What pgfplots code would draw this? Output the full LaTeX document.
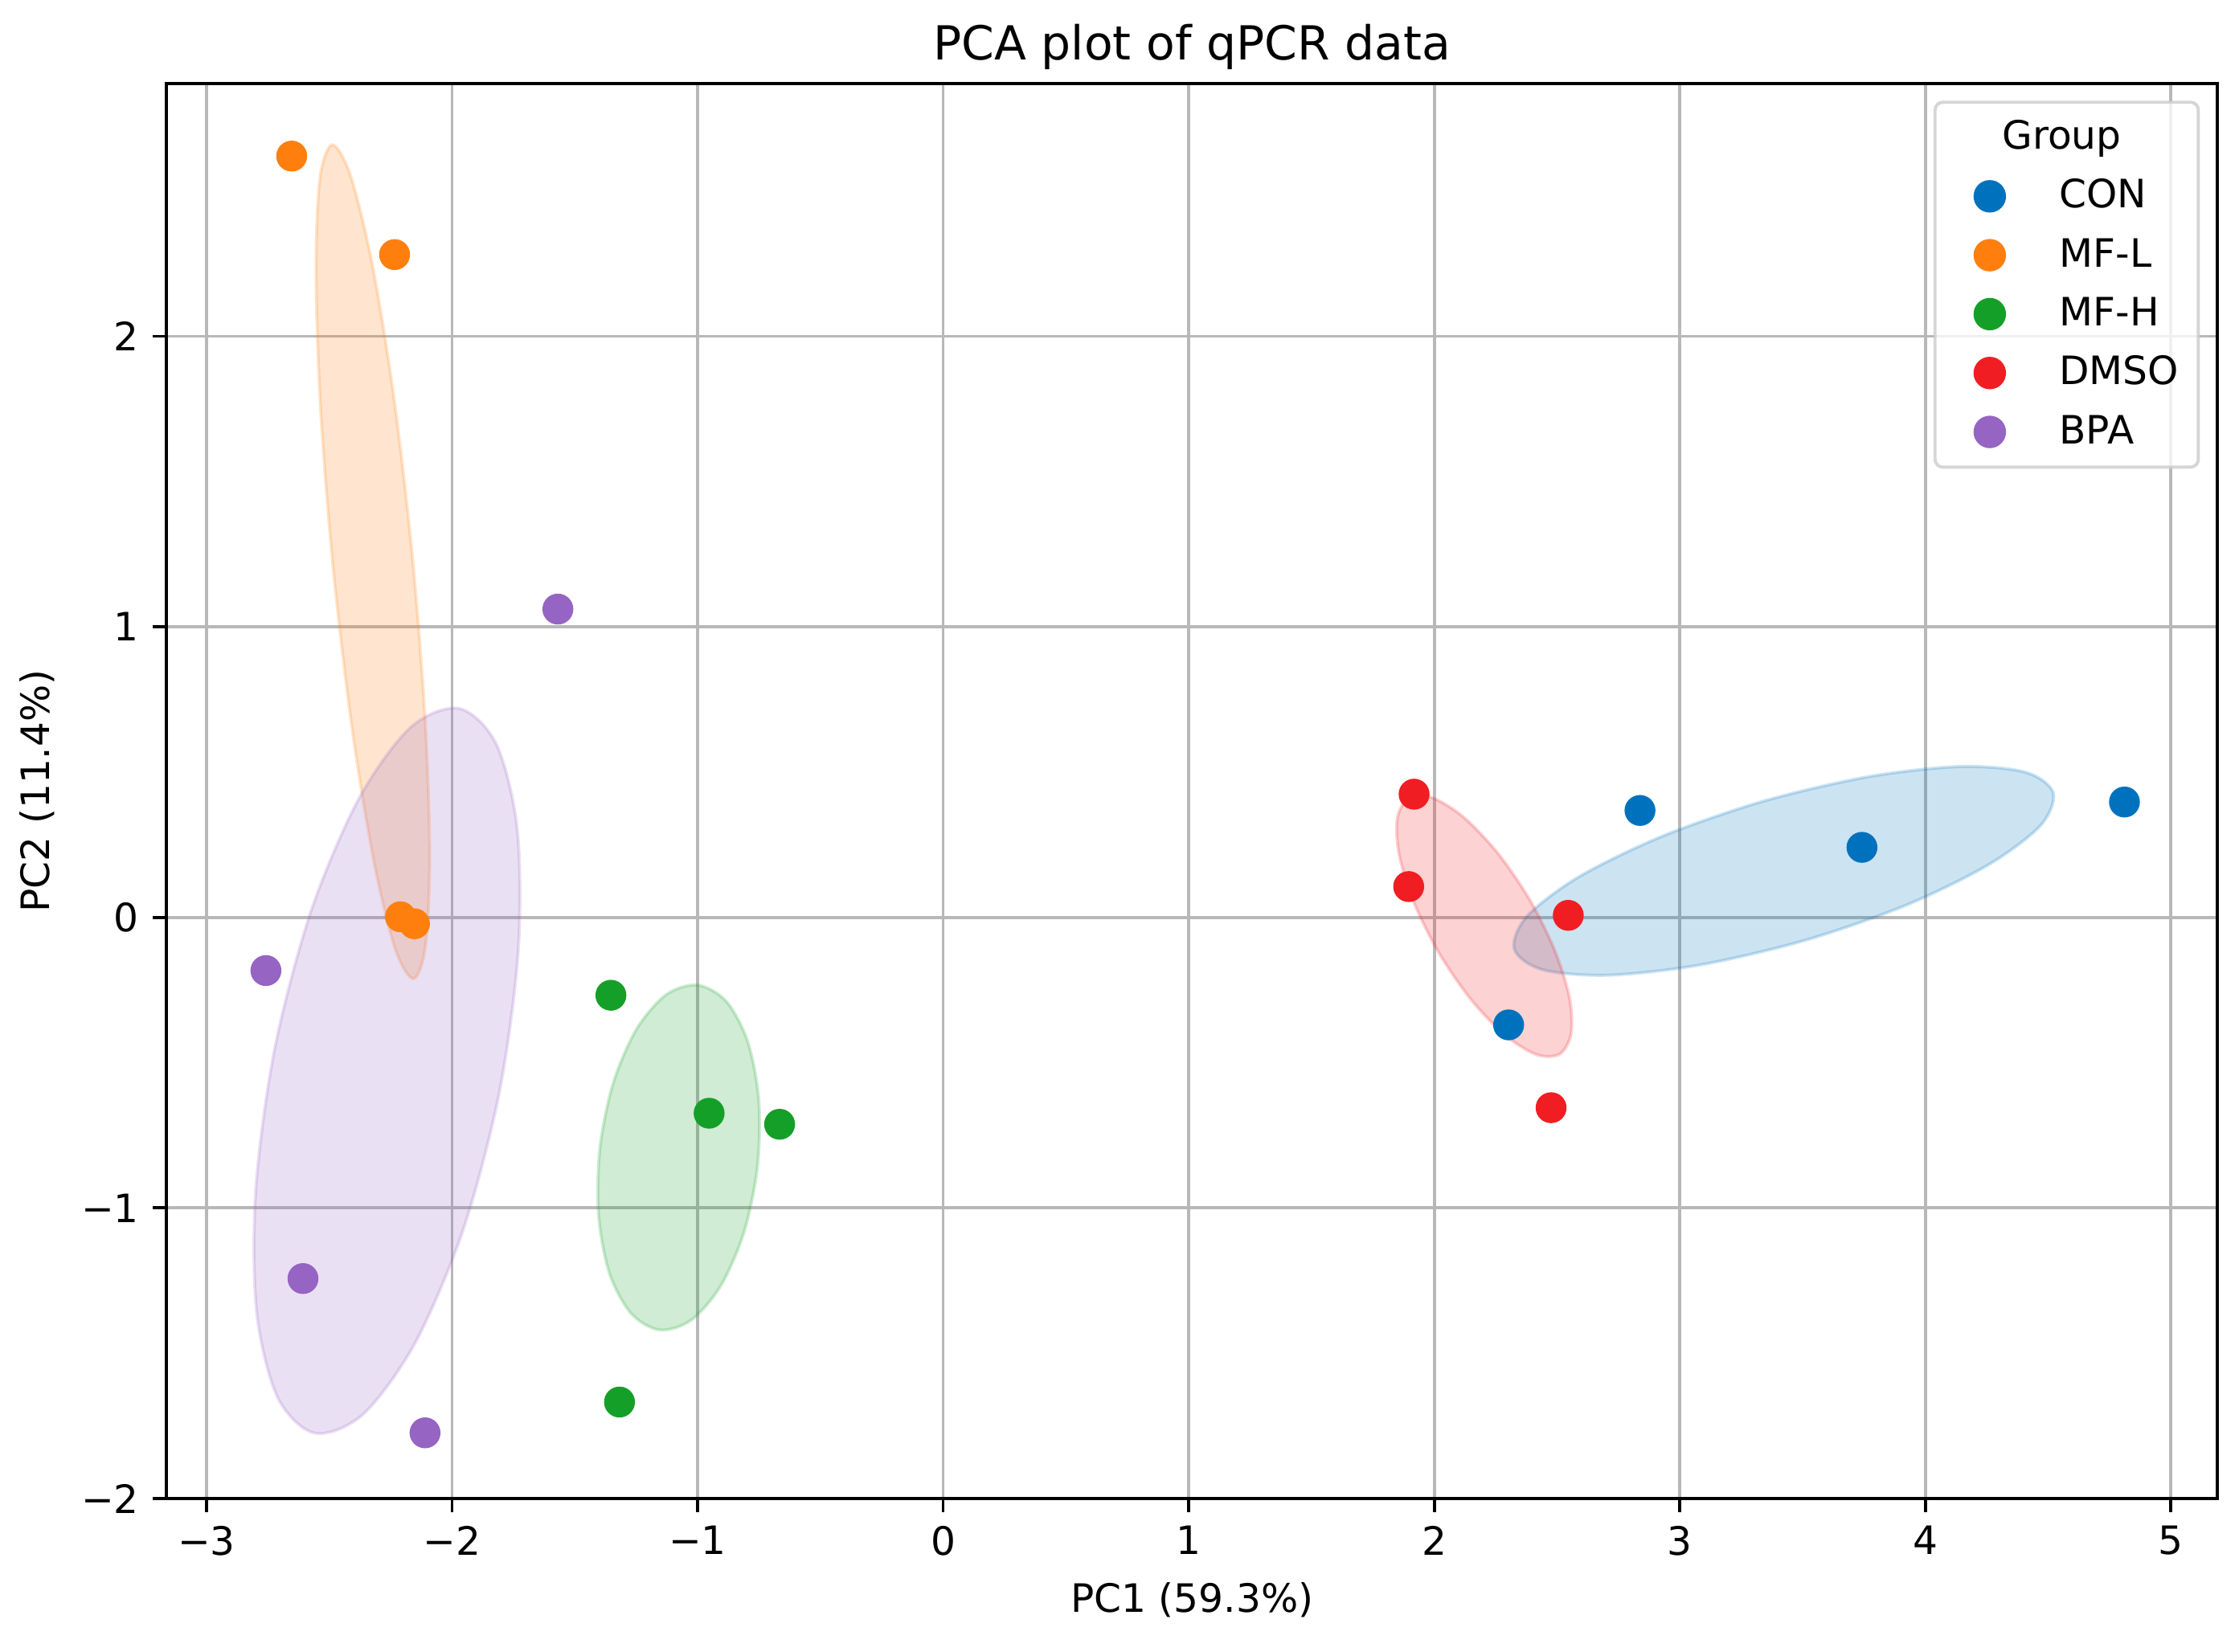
\documentclass[border=0pt]{standalone}
\usepackage{pgfplots}
\pgfplotsset{compat=1.18}
\usepackage{fontspec}
\setmainfont{DejaVu Sans}

\definecolor{cblue}{RGB}{0,114,189}
\definecolor{corange}{RGB}{255,127,14}
\definecolor{cgreen}{RGB}{20,160,40}
\definecolor{cred}{RGB}{240,30,35}
\definecolor{cpurple}{RGB}{150,100,195}

\pgfplotsset{
  dot/.style={only marks, mark=*, mark size=3.75pt, color=#1,
    legend image code/.code={
      \path[draw=none, fill=none] (0pt,-3pt) rectangle (27.8pt,3pt);
      \draw[##1, fill opacity=1, draw opacity=1] plot coordinates {(10pt,0pt)};
    }},
  ell/.style={forget plot, smooth cycle, tension=0.52, fill=#1, draw=#1, opacity=0.2, line width=0.8pt},
}

\begin{document}
\begin{tikzpicture}
\begin{axis}[
  scale only axis, width=524.6pt, height=362pt,
  xmin=-3.163, xmax=5.19, ymin=-2, ymax=2.87,
  xtick={-3,-2,-1,0,1,2,3,4,5},
  xticklabels={−3,−2,−1,0,1,2,3,4,5},
  ytick={-2,-1,0,1,2},
  yticklabels={−2,−1,0,1,2},
  tick pos=left, tick align=outside,
  major tick length=3.5pt,
  tick style={black, line width=0.8pt},
  axis line style={black, line width=0.8pt},
  grid=major,
  grid style={color=black!28, line width=0.8pt},
  ticklabel style={font=\fontsize{10}{12}\selectfont},
  label style={font=\fontsize{10}{12}\selectfont},
  xlabel={PC1 (59.3\%)},
  ylabel={PC2 (11.4\%)},
  title={PCA plot of qPCR data},
  title style={font=\fontsize{12}{14}\selectfont, at={(0.5,1)}, anchor=base, yshift=0pt},
  legend cell align=left,
  legend style={at={(1,1)}, anchor=north east, xshift=-4.5pt, yshift=-4.4pt,
    draw=black!20, line width=0.8pt, rounded corners=2pt,
    fill=white, fill opacity=0.8, draw opacity=0.8, text opacity=1,
    inner xsep=4pt, inner ysep=3pt,
    font=\fontsize{10}{12}\selectfont,
    row sep=3.07pt,
    nodes={inner xsep=0pt, inner ysep=1pt, text height=8pt, text depth=2pt}},
]
\addlegendimage{empty legend}
\addlegendentry{\hspace*{-14.6pt}Group}

% CON
\addplot[dot=cblue] coordinates {(2.838,0.368) (3.742,0.241) (4.811,0.397) (2.303,-0.370)};
\addlegendentry{CON}
\addplot[ell=cblue] coordinates {
  (4.521,0.429) (4.406,0.500) (4.141,0.519) (3.768,0.484) (3.341,0.400) (2.928,0.279)
  (2.590,0.140) (2.378,0.004) (2.326,-0.109) (2.441,-0.180) (2.706,-0.199) (3.080,-0.164)
  (3.506,-0.080) (3.919,0.041) (4.257,0.181) (4.469,0.316)};

% MF-L
\addplot[dot=corange] coordinates {(-2.653,2.620) (-2.234,2.281) (-2.210,0.002) (-2.153,-0.022)};
\addlegendentry{MF-L}
\addplot[ell=corange] coordinates {
  (-2.157,-0.211) (-2.108,-0.097) (-2.091,0.218) (-2.110,0.687) (-2.161,1.237) (-2.236,1.785)
  (-2.325,2.248) (-2.414,2.554) (-2.488,2.659) (-2.538,2.544) (-2.554,2.229) (-2.536,1.760)
  (-2.485,1.210) (-2.409,0.662) (-2.320,0.200) (-2.232,-0.107)};

% MF-H
\addplot[dot=cgreen] coordinates {(-1.353,-0.268) (-0.953,-0.674) (-0.666,-0.712) (-1.318,-1.668)};
\addlegendentry{MF-H}
\addplot[ell=cgreen] coordinates {
  (-1.000,-0.233) (-0.883,-0.289) (-0.796,-0.427) (-0.751,-0.626) (-0.756,-0.856) (-0.810,-1.081)
  (-0.905,-1.267) (-1.026,-1.386) (-1.154,-1.420) (-1.271,-1.363) (-1.359,-1.225) (-1.403,-1.026)
  (-1.398,-0.796) (-1.344,-0.571) (-1.249,-0.385) (-1.128,-0.266)};

% DMSO
\addplot[dot=cred] coordinates {(1.918,0.424) (1.896,0.106) (2.546,0.007) (2.476,-0.655)};
\addlegendentry{DMSO\hspace*{1pt}}
\addplot[ell=cred] coordinates {
  (1.897,0.411) (1.991,0.412) (2.118,0.346) (2.257,0.223) (2.388,0.062) (2.491,-0.114)
  (2.551,-0.277) (2.557,-0.402) (2.510,-0.471) (2.416,-0.472) (2.290,-0.406) (2.150,-0.283)
  (2.019,-0.122) (1.916,0.054) (1.857,0.217) (1.850,0.342)};

% BPA
\addplot[dot=cpurple] coordinates {(-1.569,1.061) (-2.758,-0.183) (-2.607,-1.243) (-2.110,-1.774)};
\addlegendentry{BPA}
\addplot[ell=cpurple] coordinates {
  (-1.971,0.719) (-1.819,0.595) (-1.734,0.300) (-1.731,-0.122) (-1.808,-0.605) (-1.955,-1.076)
  (-2.150,-1.464) (-2.362,-1.710) (-2.559,-1.775) (-2.711,-1.651) (-2.796,-1.356) (-2.799,-0.934)
  (-2.722,-0.451) (-2.575,0.020) (-2.380,0.408) (-2.169,0.654)};
\end{axis}
\path ([shift={(-1.7pt,-5.5pt)}]current bounding box.south west)
  rectangle ([shift={(5.1pt,2.9pt)}]current bounding box.north east);
\end{tikzpicture}
\end{document}
